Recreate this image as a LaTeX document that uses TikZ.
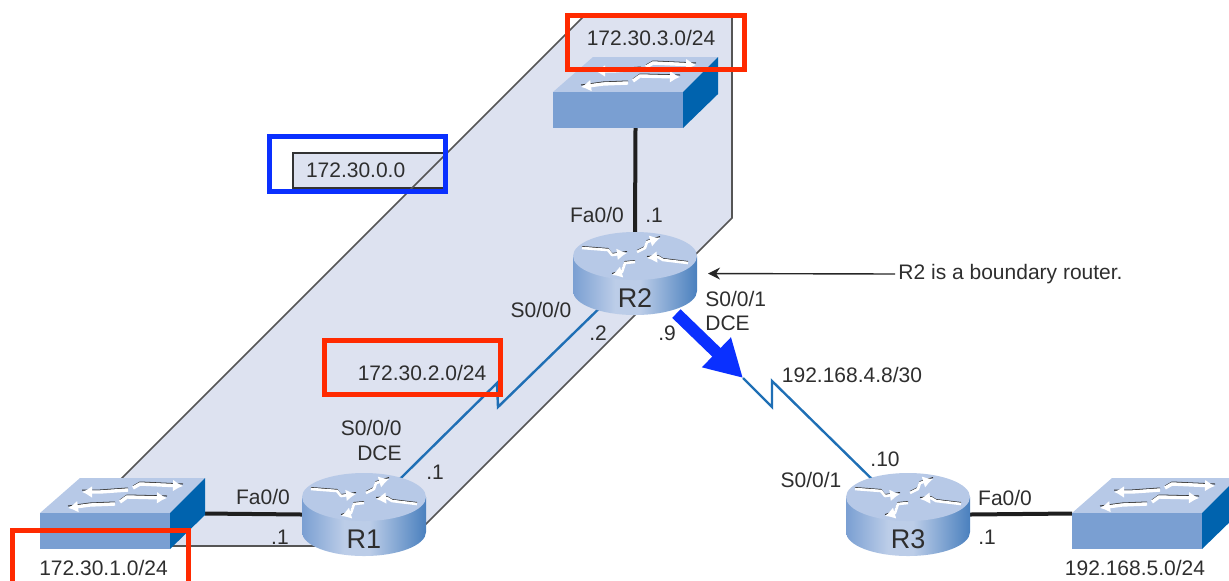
\documentclass[tikz,border=0pt]{standalone}
\usepackage{fontspec}
\setmainfont{Liberation Sans}
\usetikzlibrary{arrows.meta}

\definecolor{planefill}{HTML}{DDE2F0}
\definecolor{planeline}{HTML}{555555}
\definecolor{devlight}{HTML}{B7C9E7}
\definecolor{devmid}{HTML}{7A9FD2}
\definecolor{devdark}{HTML}{0063AE}
\definecolor{sidepale}{HTML}{BCCDE8}
\definecolor{sideedge}{HTML}{4A80BE}
\definecolor{linkblue}{HTML}{1F6FB5}
\definecolor{markred}{HTML}{FF2A00}
\definecolor{markblue}{HTML}{0A30FF}
\definecolor{inkgray}{HTML}{2E2E2E}

\pgfdeclarehorizontalshading{routerside}{100bp}{
  color(0bp)=(devmid); color(25bp)=(devmid); color(42bp)=(sidepale);
  color(52bp)=(sidepale); color(75bp)=(sideedge); color(100bp)=(sideedge)}

\tikzset{
  lbl/.style={text=inkgray,font=\fontsize{10.5}{12}\selectfont,inner sep=0pt},
  routername/.style={text=inkgray,font=\fontsize{13.5}{15}\selectfont,inner sep=0pt},
  routernode/.style={minimum width=62pt,minimum height=41.5pt,inner sep=0pt,outer sep=0pt},
  switchnode/.style={minimum width=82.5pt,minimum height=35.5pt,inner sep=0pt,outer sep=0pt},
  wire/.style={line width=2pt,draw=black!88},
  serial/.style={line width=1.2pt,draw=linkblue},
  planeedge/.style={line width=0.8pt,draw=planeline},
  redmark/.style={line width=2.5pt,draw=markred},
  bluemark/.style={line width=2.5pt,draw=markblue},
  netbox/.style={draw=black!80,line width=0.8pt,fill=planefill,text=inkgray,
    font=\fontsize{10.5}{12}\selectfont,text width=63pt,align=left,inner xsep=6.5pt,
    inner ysep=0pt,minimum height=17.5pt},
  whitearrow/.style={line width=1.7pt,draw=white,-{Latex[length=5pt,width=6pt]}},
  shadearrow/.style={line width=0.5pt,draw=black!80}
}

\newcommand{\switchbox}[2]{
\begin{scope}[shift={(#1,#2)}]
\fill[devlight] (0,0) -- (40,-35) -- (165,-35) -- (130,0) -- cycle;
\fill[devmid] (0,0) rectangle (130,36);
\fill[devdark] (130,0) -- (165,-35) -- (165,2) -- (130,36) -- cycle;
\foreach \sx/\sy/\mx/\my/\ex/\ey in {88/-23/60/-21/42/-21,93/-25/100/-29/143/-27,75/-9/50/-8/28/-5,80/-11/87/-16/127/-15}{
  \draw[shadearrow] (\sx,\sy-2) -- (\mx,\my-2) -- (\ex,\ey-2);
  \draw[whitearrow] (\sx,\sy) -- (\mx,\my) -- (\ex,\ey);
}
\end{scope}
}

\newcommand{\router}[4]{
\begin{scope}[shift={(#2,#3)}]
\shade[shading=routerside]
  (-62,0) -- (-62,35) arc[start angle=180,end angle=360,x radius=31pt,y radius=12pt]
  -- (62,0) -- cycle;
\fill[devlight] (0,0) ellipse [x radius=31pt,y radius=12pt];
\foreach \ax/\ay/\bx/\by/\cx/\cy/\dx/\dy in {-53/-8/-27/-6/-23/-1/-8/-3,2/-4/10/-8/12/-14/25/-18,0/6/-10/7/-13/16/-23/19,53/7/28/4/23/1/12/2}{
  \draw[shadearrow] (\ax,\ay-1.5) -- (\bx,\by-1.5) -- (\cx,\cy-1.5) -- (\dx,\dy-1.5);
  \draw[whitearrow,line width=1.3pt,line join=round] (\ax,\ay) -- (\bx,\by) -- (\cx,\cy) -- (\dx,\dy);
}
\node[routername] (#1) at (0,42) {#4};
\end{scope}
}

\begin{document}
\begin{tikzpicture}[x=0.5pt,y=-0.5pt]

\useasboundingbox (0,0) rectangle (1229,580);

\fill[planefill] (120,480) -- (583,17) -- (732,17) -- (732,218) -- (404,546) -- (120,546) -- cycle;
\node[netbox] (netlabel) at (369,170.5) {172.30.0.0};
\draw[planeedge] (120,480) -- (583,17) -- (732,17) -- (732,218) -- (404,546) -- (120,546);

\coordinate (zigAa) at (497,383);
\coordinate (zigAb) at (498,407);
\coordinate (zigBa) at (743,378);
\coordinate (zigBb) at (772,407);
\coordinate (zigBc) at (772,381);

\node[routernode] (R1) at (364,514.5) {};
\node[routernode] (R2) at (635,273.5) {};
\node[routernode] (R3) at (908,514.5) {};
\node[switchnode] (sw1) at (122.5,513.5) {};
\node[switchnode] (sw2) at (1154.5,513.5) {};
\node[switchnode] (sw3) at (635.5,92.5) {};

\draw[serial] (R1.center) -- (zigAa) -- (zigAb) -- (R2.center);
\draw[serial] (zigBa) -- (zigBb) -- (zigBc) -- (R3.center);
\draw[wire] (sw1.east) -- (R1.west);
\draw[wire] (R3.east) -- (sw2.west);
\draw[wire] (sw3.south) -- (R2.north);

\switchbox{40}{513}
\switchbox{1072}{513}
\switchbox{553}{92}

\router{R1name}{364}{497}{R1}
\router{R2name}{635}{256}{R2}
\router{R3name}{908}{497}{R3}

\draw[markblue,line width=6pt,shorten <=28.8pt,-{Triangle[length=18.5pt,width=19.5pt]}] (R2.center) -- (zigBa);

\node[lbl] (boundary) at (1010.5,274) {R2 is a boundary router.};
\draw[line width=0.7pt,draw=black!85,shorten <=1.5pt,shorten >=5.5pt,-{Stealth[length=6pt,width=6pt]}] (boundary.west) -- (R2.east);

\node[lbl] (net3) at (651,38) {172.30.3.0/24};
\node[lbl] (net2) at (422,373) {172.30.2.0/24};
\node[lbl] (net1) at (103.5,568) {172.30.1.0/24};
\node[lbl] (net5) at (1135,568) {192.168.5.0/24};
\node[lbl] (net4) at (852,375) {192.168.4.8/30};

\node[lbl] (R2s0) at (541,310) {S0/0/0};
\node[lbl] (R2s0ip) at (598,333) {.2};
\node[lbl,anchor=east] (R1s0) at (402,428) {S0/0/0};
\node[lbl,anchor=east] (R1dce) at (402,453) {DCE};
\node[lbl] (R1s0ip) at (435,472) {.1};
\node[lbl] (R1fa) at (263,497) {Fa0/0};
\node[lbl] (R1faip) at (280,537) {.1};
\node[lbl] (R2fa) at (597,215) {Fa0/0};
\node[lbl] (R2faip) at (654,215) {.1};
\node[lbl,anchor=west] (R2s1) at (705,299) {S0/0/1};
\node[lbl,anchor=west] (R2dce) at (705,323) {DCE};
\node[lbl] (R2s1ip) at (667,333) {.9};
\node[lbl] (R3s1ip) at (885,459) {.10};
\node[lbl] (R3s1) at (811,480) {S0/0/1};
\node[lbl] (R3fa) at (1005,498) {Fa0/0};
\node[lbl] (R3faip) at (987,537) {.1};

\draw[redmark] (567.5,15.5) rectangle (744.5,69.5);
\draw[redmark] (324.5,340.5) rectangle (500.5,394.5);
\draw[redmark] (12.5,590) -- (12.5,530) -- (188.5,530) -- (188.5,590);
\draw[bluemark] (269.5,136.5) rectangle (445.5,191.5);

\end{tikzpicture}
\end{document}
